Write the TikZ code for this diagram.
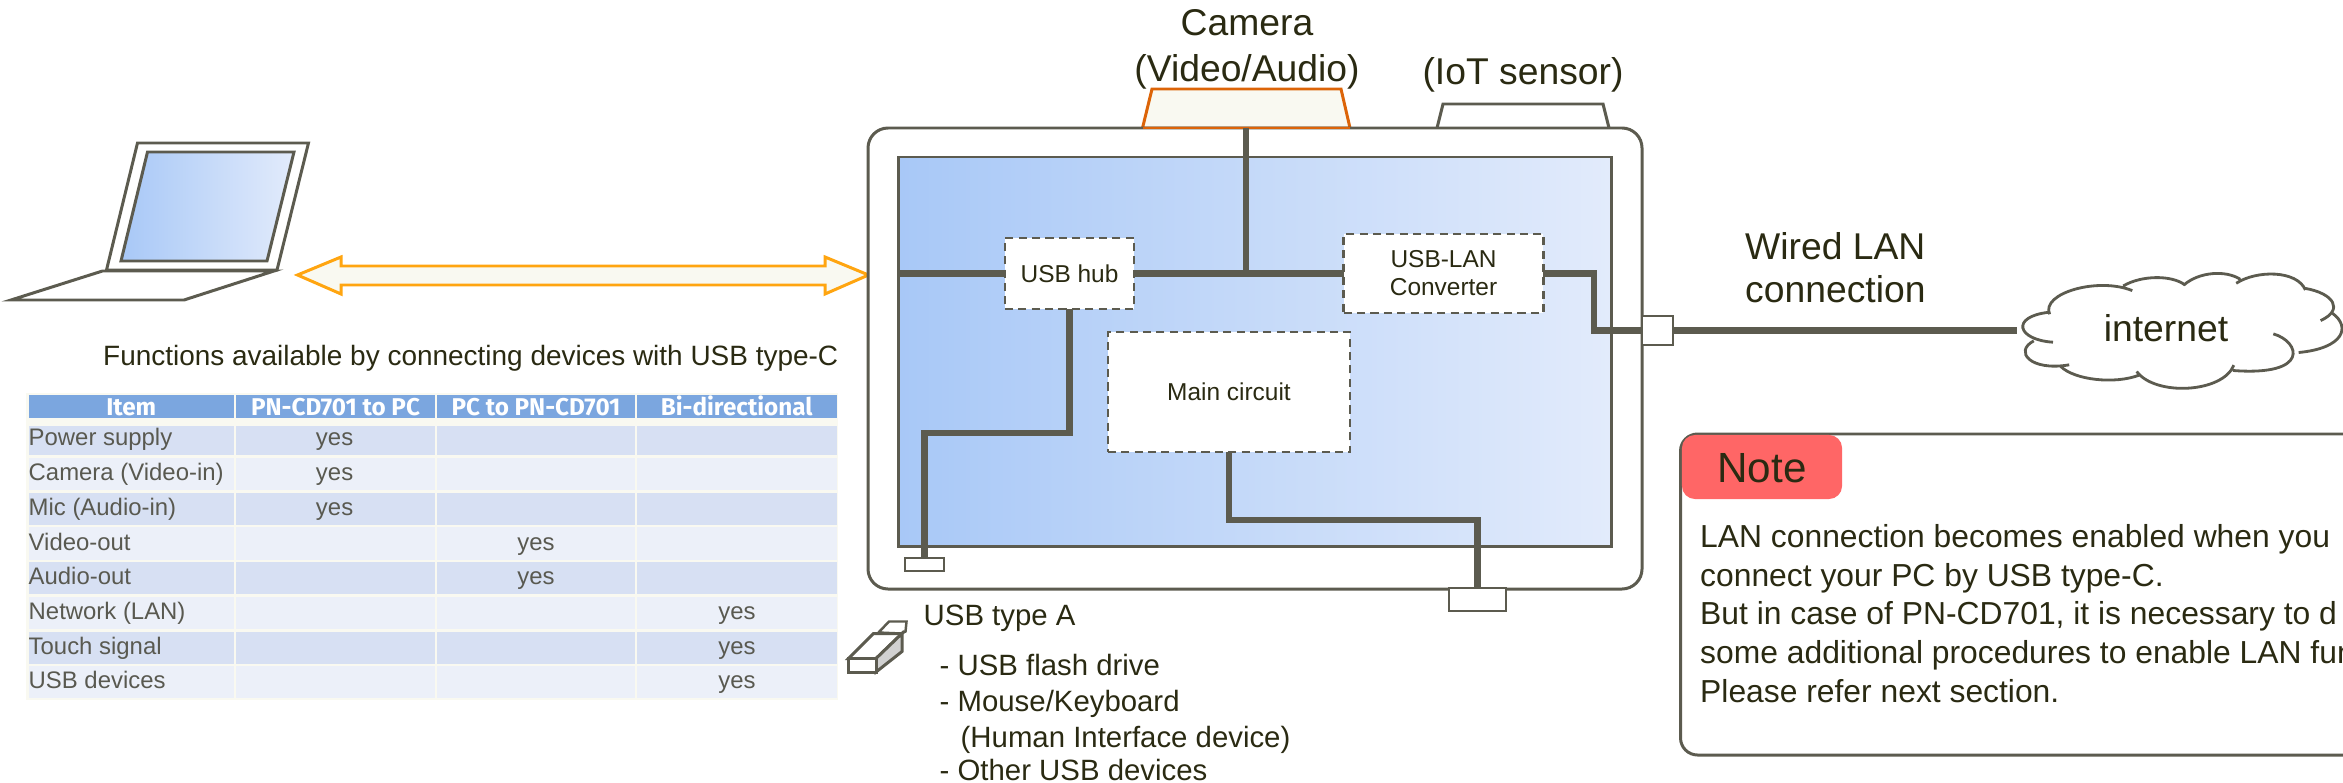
\documentclass[tikz,border=0pt]{standalone}
\usepackage{fontspec}
\setmainfont{Liberation Sans}
\newfontfamily\headfont{Fira Sans}
\definecolor{linegray}{HTML}{5C5B4F}
\definecolor{inkdark}{HTML}{2A2A12}
\definecolor{tablegray}{HTML}{595950}
\definecolor{cream}{HTML}{F9F9F1}
\definecolor{orangeline}{HTML}{FFA510}
\definecolor{camline}{HTML}{DC6408}
\definecolor{screenleft}{HTML}{A8C8F7}
\definecolor{screenright}{HTML}{E2EBFB}
\definecolor{headblue}{HTML}{7BA6DF}
\definecolor{rowdark}{HTML}{D7E0F3}
\definecolor{rowlight}{HTML}{ECF0F9}
\definecolor{notered}{HTML}{FF6666}
\tikzset{
	outline/.style={draw=linegray,line width=0.85pt},
	wire/.style={draw=linegray,line width=1.85pt},
	dashbox/.style={draw=linegray,fill=white,line width=0.75pt,dash pattern=on 2.3pt off 1.5pt,inner sep=0,outer sep=0,align=center,text=inkdark,font=\fontsize{6.95}{8}\selectfont},
	portbox/.style={draw=linegray,fill=white,line width=0.8pt,inner sep=0,outer sep=0},
	bigtext/.style={inner sep=0,anchor=base,text=inkdark,font=\fontsize{10.6}{12.4}\selectfont},
	midtext/.style={inner sep=0,anchor=base west,text=inkdark,font=\fontsize{8.35}{10}\selectfont},
	notetext/.style={inner sep=0,anchor=base west,text=inkdark,font=\fontsize{9.05}{10}\selectfont},
	celltext/.style={inner sep=0,text=tablegray,font=\fontsize{6.8}{8}\selectfont},
	headtext/.style={inner sep=0,anchor=base,text=white,font=\headfont\bfseries\fontsize{6.9}{8}\selectfont}
}
\begin{document}
\begin{tikzpicture}[x=0.01cm,y=-0.01cm]
	\useasboundingbox (0,0) rectangle (2343,782);
	%%%%% laptop %%%%%
	\draw[outline] (137.5,143) -- (308.5,143) -- (277,270) -- (106.5,270) -- cycle;
	\draw[outline,left color=screenleft,right color=screenright] (147.5,152) -- (294,152) -- (267,261) -- (121,261) -- cycle;
	\draw[outline] (102.5,271) -- (274,271) -- (184,300) -- (11,300) -- cycle;
	\draw[draw=orangeline,fill=cream,line width=0.85pt] (297.5,275) -- (341,257) -- (341,266) -- (825,266) -- (825,257) -- (868.5,275) -- (825,294) -- (825,285) -- (341,285) -- (341,294) -- cycle;
	
	%%%%% table %%%%%
	\node[midtext,font=\fontsize{7.95}{10}\selectfont] (tabletitle) at (102.5,365) {Functions available by connecting devices with USB type-C};
	\fill[cream] (26,393) rectangle (838,700);
	\foreach \xa/\xb/\head in {28.5/234/Item,236/435/PN-CD701 to PC,437/635/PC to PN-CD701,637/836.5/Bi-directional}{
		\fill[headblue] (\xa,395) rectangle (\xb,418);
		\node[headtext] (head\xa) at ({(\xa+\xb)/2},415) {\head};
	}
	\foreach \ytop/\ybot/\rowcol/\item/\xyes in {426/455/rowdark/Power supply/334.6,458/490/rowlight/Camera (Video-in)/334.6,493/525/rowdark/Mic (Audio-in)/334.6,527/560/rowlight/Video-out/536,562/594/rowdark/Audio-out/536,597/629/rowlight/Network (LAN)/737,632/664/rowdark/Touch signal/737,666/698/rowlight/USB devices/737}{
		\foreach \xa/\xb in {28.5/234,236/435,437/635,637/836.5}
			\fill[\rowcol] (\xa,\ytop) rectangle (\xb,\ybot);
		\node[celltext,anchor=base west] (item\ytop) at (28,\ybot-10) {\item};
		\node[celltext,anchor=base] (yes\ytop) at (\xyes,\ybot-10) {yes};
	}
	
	%%%%% monitor %%%%%
	\draw[draw=camline,fill=cream,line width=0.85pt] (1152,89) -- (1341,89) -- (1350,128) -- (1142.5,128) -- cycle;
	\draw[outline] (1437,128) -- (1443,104) -- (1603,104) -- (1609,128);
	\draw[outline,rounded corners=0.2cm,fill=white] (868,128) rectangle (1642,589);
	\draw[camline,line width=0.85pt] (1142.5,128) -- (1350,128);
	\draw[outline,left color=screenleft,right color=screenright] (898,157) rectangle (1611,546);
	
	\coordinate (camfoot) at (1246,128);
	\coordinate (hubin) at (898,273.5);
	\coordinate (cloudin) at (2017,330.5);
	
	\node[dashbox,minimum width=1.29cm,minimum height=0.71cm] (hub) at (1069.5,273.5) {USB hub};
	\node[dashbox,minimum width=1.995cm,minimum height=0.79cm] (conv) at (1443.5,273.5) {USB-LAN\\Converter};
	\node[dashbox,minimum width=2.42cm,minimum height=1.2cm] (main) at (1229,392) {Main circuit};
	
	\draw[wire] (hubin) -- (hub.west);
	\draw[wire] (hub.east) -- (conv.west);
	\draw[wire] (camfoot) -- (camfoot |- hub.east);
	\draw[wire] (hub.south) -- ++(0,124) -| (924.5,558) coordinate (usbtop);
	\draw[wire] (main.south) -- ++(0,68) -| (1477.5,588) coordinate (hdmitop);
	\draw[wire] (conv.east) -- ++(50.5,0) |- (1642,330.5) coordinate (lanleft);
	
	\node[portbox,minimum width=0.39cm,minimum height=0.13cm] (usbport) at (924.5,564.5) {};
	\node[portbox,minimum width=0.57cm,minimum height=0.23cm] (hdmiport) at (1477.5,599.5) {};
	\node[portbox,minimum width=0.31cm,minimum height=0.29cm] (lanport) at (1657.5,330.5) {};
	\draw[wire] (lanport.east) -- (cloudin);
	
	%%%%% labels %%%%%
	\node[bigtext] (camlabel) at (1247,36) {Camera};
	\node[bigtext] (avlabel) at (1247,82) {(Video/Audio)};
	\node[bigtext] (iotlabel) at (1523,85) {(IoT sensor)};
	\node[bigtext,anchor=base west] (wiredlabel) at (1744.5,259) {Wired LAN};
	\node[bigtext,anchor=base west] (connlabel) at (1744.5,302) {connection};
	
	%%%%% usb stick %%%%%
	\draw[outline,line width=0.7pt,fill=white] (878.5,632.5) -- (889,621.5) -- (906.5,621.5) -- (905.5,631.5) -- (901,633.5) -- cycle;
	\draw[outline,fill=white] (848.5,658.5) -- (873.5,633.5) -- (902,633.5) -- (876,658.5) -- cycle;
	\draw[outline,fill=black!18] (876,658.5) -- (902,633.5) -- (902,651.5) -- (876,672) -- cycle;
	\draw[outline,fill=white] (848.5,658.5) rectangle (876,672);
	
	\node[midtext] (usbtitle) at (923,625) {USB type A};
	\node[midtext] (usbone) at (939,675) {- USB flash drive};
	\node[midtext] (usbtwo) at (939,711) {- Mouse/Keyboard};
	\node[midtext] (usbthree) at (960,747) {(Human Interface device)};
	\node[midtext] (usbfour) at (939,780) {- Other USB devices};
	
	%%%%% cloud %%%%%
	\begin{scope}[shift={(2000,260)},x=0.003373cm,y=-0.003333cm]
		\draw[outline,line width=0.8pt]
			(157,247) .. controls (50,240) and (30,170) .. (145,157)
			(147,163) .. controls (120,100) and (290,50) .. (392,92)
			(365,78) .. controls (420,45) and (510,45) .. (548,75)
			(545,75) .. controls (590,35) and (670,30) .. (712,58)
			(700,70) .. controls (760,30) and (880,30) .. (905,90)
			(903,85) .. controls (990,100) and (1020,150) .. (950,182)
			(985,160) .. controls (1040,200) and (1020,265) .. (885,278)
			(810,222) .. controls (890,245) and (920,350) .. (690,332)
			(693,316) .. controls (660,400) and (460,410) .. (405,335)
			(415,345) .. controls (340,375) and (220,360) .. (180,320)
			(205,315) .. controls (90,335) and (40,275) .. (100,243);
	\end{scope}
	\node[bigtext] (netlabel) at (2166,341) {internet};
	
	%%%%% note %%%%%
	\draw[outline,rounded corners=0.17cm] (2343,434) -- (1680.5,434) -- (1680.5,755) -- (2343,755);
	\node[fill=notered,rounded corners=0.13cm,minimum width=1.6cm,minimum height=0.64cm,inner sep=0,outer sep=0] (notetag) at (1762,467) {};
	\node[bigtext,font=\fontsize{12}{14}\selectfont] (notelabel) at (1762,482.5) {Note};
	\node[notetext] (noteone) at (1699.5,547) {LAN connection becomes enabled when you};
	\node[notetext] (notetwo) at (1699.5,586) {connect your PC by USB type-C.};
	\node[notetext] (notethree) at (1699.5,624) {But in case of PN-CD701, it is necessary to d};
	\node[notetext] (notefour) at (1699.5,663) {some additional procedures to enable LAN fun};
	\node[notetext] (notefive) at (1699.5,702) {Please refer next section.};
\end{tikzpicture}
\end{document}
